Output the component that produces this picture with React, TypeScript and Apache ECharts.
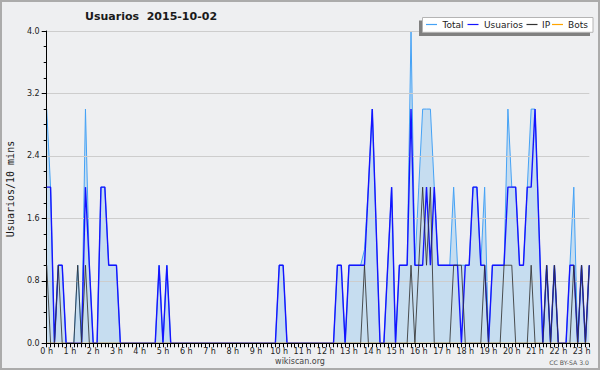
import React, { useEffect, useRef } from "react";
import * as echarts from "echarts";

const hourLabels = [
  "0 h", "1 h", "2 h", "3 h", "4 h", "5 h", "6 h", "7 h", "8 h", "9 h", "10 h", "11 h",
  "12 h", "13 h", "14 h", "15 h", "16 h", "17 h", "18 h", "19 h", "20 h", "21 h", "22 h", "23 h",
];

// one value every 10 minutes, 0:00 .. 23:20
const total = [
  3, 2, 0, 1, 1, 0, 0, 0, 1, 0, 3, 1,
  0, 0, 2, 2, 1, 1, 1, 0, 0, 0, 0, 0,
  0, 0, 0, 0, 0, 1, 0, 1, 0, 0, 0, 0,
  0, 0, 0, 0, 0, 0, 0, 0, 0, 0, 0, 0,
  0, 0, 0, 0, 0, 0, 0, 0, 0, 0, 0, 0,
  1, 1, 0, 0, 0, 0, 0, 0, 0, 0, 0, 0,
  0, 0, 0, 1, 1, 0, 1, 1, 1, 1, 1.2, 2,
  3, 1.5, 0, 0, 1, 2, 0, 1, 1, 1, 4, 1,
  2, 3, 3, 3, 2, 1, 1, 1, 1, 2, 1, 1,
  1, 1, 2, 2, 1, 2, 0, 1, 1, 1, 1, 3,
  2, 2, 1, 1, 2, 3, 3, 1.5, 0, 1, 0, 1,
  0, 0, 0, 1, 2, 0, 1, 0, 1,
];

const usuarios = [
  2, 2, 0, 1, 1, 0, 0, 0, 0, 0, 2, 1,
  0, 0, 2, 2, 1, 1, 1, 0, 0, 0, 0, 0,
  0, 0, 0, 0, 0, 1, 0, 1, 0, 0, 0, 0,
  0, 0, 0, 0, 0, 0, 0, 0, 0, 0, 0, 0,
  0, 0, 0, 0, 0, 0, 0, 0, 0, 0, 0, 0,
  1, 1, 0, 0, 0, 0, 0, 0, 0, 0, 0, 0,
  0, 0, 0, 1, 1, 0, 1, 1, 1, 1, 1, 2,
  3, 1.5, 0, 0, 1, 2, 0, 1, 1, 1, 3, 1,
  1, 1, 2, 1, 2, 1, 1, 1, 1, 1, 1, 0,
  1, 1, 2, 2, 1, 1, 0, 1, 1, 1, 1, 2,
  2, 2, 1, 1, 2, 2, 3, 1.5, 0, 1, 0, 1,
  0, 0, 0, 1, 1, 0, 1, 0, 1,
];

const ip = [
  1, 0, 0, 1, 0, 0, 0, 0, 1, 0, 1, 0,
  0, 0, 0, 0, 0, 0, 0, 0, 0, 0, 0, 0,
  0, 0, 0, 0, 0, 0, 0, 0, 0, 0, 0, 0,
  0, 0, 0, 0, 0, 0, 0, 0, 0, 0, 0, 0,
  0, 0, 0, 0, 0, 0, 0, 0, 0, 0, 0, 0,
  0, 0, 0, 0, 0, 0, 0, 0, 0, 0, 0, 0,
  0, 0, 0, 0, 0, 0, 0, 0, 0, 0, 1, 0,
  0, 0, 0, 0, 0, 0, 0, 0, 0, 0, 1, 0,
  1, 2, 1, 2, 0, 0, 0, 0, 0, 1, 1, 1,
  0, 0, 0, 0, 0, 1, 0, 0, 0, 0, 1, 1,
  1, 0, 0, 0, 0, 1, 0, 0, 0, 1, 0, 1,
  0, 0, 0, 0, 1, 0, 1, 0, 1,
];

const bots = [
  0, 0, 0, 0, 0, 0, 0, 0, 0, 0, 0, 0,
  0, 0, 0, 0, 0, 0, 0, 0, 0, 0, 0, 0,
  0, 0, 0, 0, 0, 0, 0, 0, 0, 0, 0, 0,
  0, 0, 0, 0, 0, 0, 0, 0, 0, 0, 0, 0,
  0, 0, 0, 0, 0, 0, 0, 0, 0, 0, 0, 0,
  0, 0, 0, 0, 0, 0, 0, 0, 0, 0, 0, 0,
  0, 0, 0, 0, 0, 0, 0, 0, 0, 0, 0, 0,
  0, 0, 0, 0, 0, 0, 0, 0, 0, 0, 0, 0,
  0, 0, 0, 0, 0, 0, 0, 0, 0, 0, 0, 0,
  0, 0, 0, 0, 0, 0, 0, 0, 0, 0, 0, 0,
  0, 0, 0, 0, 0, 0, 0, 0, 0, 0, 0, 0,
  0, 0, 0, 0, 0, 0, 0, 0, 0,
];

const seriesNames = ["Total", "Usuarios", "IP", "Bots"];
const seriesColors = ["#45a2f5", "#1414ff", "#333333", "#ffa500"];
const titleText = "Usuarios  2015-10-02";
const yAxisTitle = "Usuarios/10 mins";
const footerText = "wikiscan.org";
const licenseText = "CC BY-SA 3.0";

const FONT = "'DejaVu Sans', Verdana, sans-serif";

export default function App() {
  const ref = useRef<HTMLDivElement>(null);

  useEffect(() => {
    document.body.style.margin = "0";
    if (!ref.current) return;
    const chart = echarts.init(ref.current, null, { renderer: "svg" });

    const categories = total.map((_, i) => String(i));

    const legendItems = [
      { x: 426, tx: 442.5 },
      { x: 467.5, tx: 484 },
      { x: 526.5, tx: 542 },
      { x: 552, tx: 568 },
    ];

    const graphic: any[] = [
      {
        type: "rect",
        shape: { x: 1, y: 1, width: 598, height: 368 },
        style: { fill: "none", stroke: "#ababab", lineWidth: 2 },
        z: 100,
        silent: true,
      },
      {
        type: "text",
        x: 85,
        y: 16,
        style: {
          text: titleText,
          fill: "#1a1a1a",
          font: `bold 11px ${FONT}`,
          textAlign: "left",
          textVerticalAlign: "middle",
        },
        z: 100,
      },
      {
        type: "text",
        x: 10,
        y: 189,
        rotation: Math.PI / 2,
        style: {
          text: yAxisTitle,
          fill: "#1a1a1a",
          font: `10px 'DejaVu Sans Mono', monospace`,
          textAlign: "center",
          textVerticalAlign: "middle",
        },
        z: 100,
      },
      {
        type: "text",
        x: 300,
        y: 361,
        style: {
          text: footerText,
          fill: "#444444",
          font: `8px ${FONT}`,
          textAlign: "center",
          textVerticalAlign: "middle",
        },
        z: 100,
      },
      {
        type: "text",
        x: 589,
        y: 362,
        style: {
          text: licenseText,
          fill: "#555555",
          font: `6.2px ${FONT}`,
          textAlign: "right",
          textVerticalAlign: "middle",
        },
        z: 100,
      },
      // legend shadow and box
      {
        type: "rect",
        shape: { x: 419, y: 20.5, width: 171, height: 15.5 },
        style: { fill: "#808080" },
        z: 100,
      },
      {
        type: "rect",
        shape: { x: 422.5, y: 17.5, width: 170.5, height: 14.8 },
        style: { fill: "#ffffff", stroke: "#b4b4b4", lineWidth: 1 },
        z: 101,
      },
    ];

    seriesNames.forEach((name, k) => {
      const it = legendItems[k];
      graphic.push({
        type: "line",
        shape: { x1: it.x, y1: 24.5, x2: it.x + 11, y2: 24.5 },
        style: { stroke: seriesColors[k], lineWidth: 1.2 },
        z: 102,
      });
      graphic.push({
        type: "text",
        x: it.tx,
        y: 25,
        style: {
          text: name,
          fill: "#222222",
          font: `9px ${FONT}`,
          textAlign: "left",
          textVerticalAlign: "middle",
        },
        z: 102,
      });
    });

    const dataSets = [total, usuarios, ip, bots];

    chart.setOption({
      animation: false,
      backgroundColor: "#eeeff1",
      grid: { left: 46.7, right: 10.7, top: 31, bottom: 26.7 },
      xAxis: {
        type: "category",
        data: categories,
        boundaryGap: false,
        z: 5,
        axisLine: { show: true, lineStyle: { color: "#000000", width: 1 } },
        axisTick: { show: true, interval: 0, length: 4, lineStyle: { color: "#000000" } },
        axisLabel: {
          interval: 5,
          margin: 4,
          color: "#222222",
          fontSize: 8,
          fontFamily: FONT,
          formatter: (_v: string, idx: number) => (idx % 6 === 0 ? hourLabels[idx / 6] : ""),
        },
        splitLine: { show: false },
      },
      yAxis: {
        type: "value",
        min: 0,
        max: 4,
        interval: 0.8,
        z: 1,
        axisLine: { show: true, lineStyle: { color: "#000000", width: 1 } },
        axisTick: { show: true, length: 5, lineStyle: { color: "#000000" } },
        minorTick: { show: true, splitNumber: 4, length: 3, lineStyle: { color: "#000000" } },
        axisLabel: {
          margin: 7,
          color: "#222222",
          fontSize: 8,
          fontFamily: FONT,
          formatter: (v: number) => v.toFixed(1),
        },
        splitLine: { show: true, lineStyle: { color: "#cdcdcd", width: 1 } },
      },
      series: seriesNames.map((name, k) => ({
        name,
        type: "line",
        data: dataSets[k],
        symbol: "none",
        z: k === 0 ? 0 : 2,
        lineStyle: {
          color: seriesColors[k],
          width: k === 1 ? 1.4 : 1,
          opacity: k === 2 ? 0.85 : 1,
        },
        itemStyle: { color: seriesColors[k] },
        areaStyle: k === 0 ? { color: "#c6ddf0", opacity: 1 } : undefined,
      })),
      graphic,
    });

    return () => chart.dispose();
  }, []);

  return <div ref={ref} style={{ width: 600, height: 370 }} />;
}
